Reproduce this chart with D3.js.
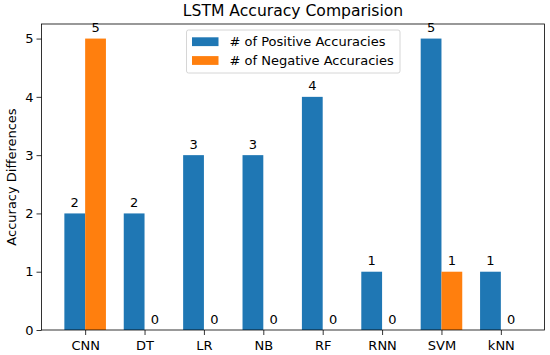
<!DOCTYPE html>
<html>
<head>
<meta charset="utf-8">
<script src="https://cdn.jsdelivr.net/npm/d3@7"></script>
<style>
  body { margin: 0; background: #fff; }
  svg { display: block; font-family: "DejaVu Sans", sans-serif; }
</style>
</head>
<body>
<div id="chart"></div>
<script>
const categories = ["CNN", "DT", "LR", "NB", "RF", "RNN", "SVM", "kNN"];
const positive = [2, 2, 3, 3, 4, 1, 5, 1];
const negative = [5, 0, 0, 0, 0, 0, 1, 0];
const yTicks = [0, 1, 2, 3, 4, 5];
const seriesNames = ["# of Positive Accuracies", "# of Negative Accuracies"];
const colors = ["#1f77b4", "#ff7f0e"];

const width = 550, height = 355;
const margin = { top: 24, right: 5.5, bottom: 25, left: 41.5 };
const barW = 0.35;
const fs = 13;

const svg = d3.select("#chart")
  .append("svg")
  .attr("width", width)
  .attr("height", height);

const x = d3.scaleLinear()
  .domain([-barW - 0.385, categories.length - 1 + barW + 0.385])
  .range([margin.left, width - margin.right]);
const y = d3.scaleLinear()
  .domain([0, 5.25])
  .range([height - margin.bottom, margin.top]);

const series = [positive, negative];

series.forEach((vals, s) => {
  const g = svg.append("g");
  g.selectAll("rect")
    .data(vals)
    .join("rect")
      .attr("x", (d, i) => s === 0 ? x(i - barW) : x(i))
      .attr("y", d => y(d))
      .attr("width", x(barW) - x(0))
      .attr("height", d => y(0) - y(d))
      .attr("fill", colors[s]);
  g.selectAll("text")
    .data(vals)
    .join("text")
      .attr("x", (d, i) => x(i + (s === 0 ? -barW / 2 : barW / 2)))
      .attr("y", d => y(d) - 6.5)
      .attr("text-anchor", "middle")
      .attr("font-size", fs)
      .text(d => d);
});

// axes
const xAxis = svg.append("g")
  .attr("transform", `translate(0,${y(0)})`)
  .call(d3.axisBottom(x).tickValues(d3.range(categories.length)).tickFormat(i => categories[i]).tickSize(5).tickPadding(5.5));
const yAxis = svg.append("g")
  .attr("transform", `translate(${margin.left},0)`)
  .call(d3.axisLeft(y).tickValues(yTicks).tickFormat(d3.format("d")).tickSize(5).tickPadding(3));

[xAxis, yAxis].forEach(a => {
  a.select(".domain").remove();
  a.selectAll("text").attr("font-size", fs).attr("font-family", "DejaVu Sans").attr("fill", "#000");
  a.selectAll("line").attr("stroke", "#000").attr("stroke-width", 0.8);
});

// frame
svg.append("rect")
  .attr("x", margin.left)
  .attr("y", margin.top)
  .attr("width", width - margin.right - margin.left)
  .attr("height", y(0) - margin.top)
  .attr("fill", "none")
  .attr("stroke", "#000")
  .attr("stroke-width", 0.8);

// title and y label
svg.append("text")
  .attr("x", (margin.left + width - margin.right) / 2)
  .attr("y", 16)
  .attr("text-anchor", "middle")
  .attr("font-size", 15.6)
  .text("LSTM Accuracy Comparision");

svg.append("text")
  .attr("transform", `translate(16,${(margin.top + y(0)) / 2}) rotate(-90)`)
  .attr("text-anchor", "middle")
  .attr("font-size", fs)
  .text("Accuracy Differences");

// legend
const legend = svg.append("g").attr("transform", "translate(186.5,30)");
legend.append("rect")
  .attr("width", 213.5)
  .attr("height", 43)
  .attr("rx", 2)
  .attr("fill", "#fff")
  .attr("fill-opacity", 0.8)
  .attr("stroke", "#ccc")
  .attr("stroke-width", 0.8);
seriesNames.forEach((name, i) => {
  legend.append("rect")
    .attr("x", 5.5)
    .attr("y", 7.3 + i * 18.8)
    .attr("width", 26.5)
    .attr("height", 8.8)
    .attr("fill", colors[i]);
  legend.append("text")
    .attr("x", 43)
    .attr("y", 16.3 + i * 18.8)
    .attr("font-size", fs)
    .text(name);
});
</script>
</body>
</html>
